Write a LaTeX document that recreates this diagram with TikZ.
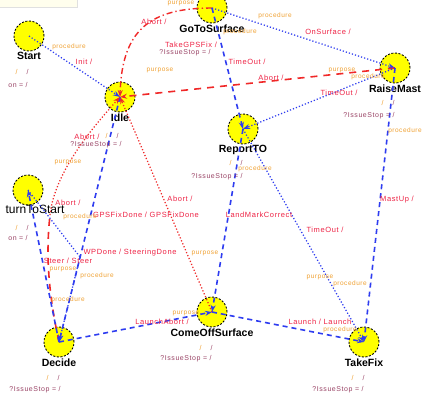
\documentclass[tikz,border=0pt]{standalone}
\usepackage{fontspec}
\setmainfont{Liberation Sans}
\newfontfamily\annfont[LetterSpace=8]{Liberation Sans}
\usetikzlibrary{arrows.meta}

\definecolor{lineblue}{HTML}{2E3CF0}
\definecolor{linered}{HTML}{F02828}
\definecolor{evred}{HTML}{EE2244}
\definecolor{annorange}{HTML}{F0A030}
\definecolor{annpurple}{HTML}{9A4466}
\definecolor{stateyellow}{HTML}{FFFF00}

\tikzset{
  state/.style={circle, fill=stateyellow, draw=black, line width=0.9pt,
    dash pattern=on 2pt off 1.6pt, minimum size=30pt, inner sep=0pt},
  statename/.style={font=\bfseries\fontsize{10.5}{12}\selectfont, inner sep=1pt,
    text=black, solid},
  ev/.style={text=evred, font=\annfont\fontsize{7.5}{9}\selectfont, inner sep=0pt},
  ann/.style={text=annorange, font=\annfont\fontsize{6.5}{8}\selectfont, inner sep=0pt},
  iss/.style={text=annpurple, font=\annfont\fontsize{7}{8}\selectfont, inner sep=0pt},
  tick/.style={font=\fontsize{7}{8}\selectfont, inner sep=0pt},
  tip/.style={-{Stealth[length=7pt,width=5pt]}},
  bdot/.style={draw=lineblue, line width=1.25pt, dash pattern=on 1.2pt off 2pt},
  bdash/.style={draw=lineblue, line width=1.6pt, dash pattern=on 5pt off 4pt},
  rdot/.style={draw=linered, line width=1.25pt, dash pattern=on 1.2pt off 2pt},
  rdash/.style={draw=linered, line width=1.6pt, dash pattern=on 7pt off 6pt},
  rdashdot/.style={draw=linered, line width=1.4pt, dash pattern=on 6pt off 3pt on 1.3pt off 3pt},
}
\newcommand{\ticks}{{\color{annorange}/}\hspace{9pt}{\color{annpurple}/}}

\begin{document}
\begin{tikzpicture}[x=1pt, y=-1pt]
\useasboundingbox (0,0) rectangle (425,402);
\fill[white] (0,0) rectangle (425,402);

% faint note strip in the corner
\filldraw[fill=yellow!7, draw=black!12] (-1,-1) rectangle (77,7);

% states
\node[state, label={[statename]below:Start}] (Start) at (29,36) {};
\node[state, label={[statename]below:GoToSurface}] (GoToSurface) at (212,8) {};
\node[state, label={[statename]below:Idle}] (Idle) at (120,97) {};
\node[state, label={[statename]below:RaiseMast}] (RaiseMast) at (395,68) {};
\node[state, label={[statename]below:ReportTO}] (ReportTO) at (243,129) {};
\node[state, label={[statename, font=\fontsize{12}{14}\selectfont, xshift=7pt, yshift=2pt]below:turnToStart}] (turnToStart) at (28,190) {};
\node[state, label={[statename]below:Decide}] (Decide) at (59,342) {};
\node[state, label={[statename]below:ComeOffSurface}] (ComeOffSurface) at (212,312) {};
\node[state, label={[statename]below:TakeFix}] (TakeFix) at (364,342) {};

\coordinate (wp) at (80,257);
\coordinate (rmid) at (50,215);

% transitions
\draw[bdot, tip] (Start.center) -- (Idle.center);
\draw[rdashdot, tip] (GoToSurface.center) .. controls (150,8) and (122,30) .. (Idle.center);
\draw[bdot, tip] (GoToSurface.center) -- (RaiseMast.center);
\draw[bdash, tip] (GoToSurface.center) -- (ReportTO.center);
\draw[rdash, tip] (RaiseMast.center) -- (Idle.center);
\draw[bdot, tip] (RaiseMast.center) -- (ReportTO.center);
\draw[bdash, tip] (RaiseMast.center) -- (TakeFix.center);
\draw[bdot, tip] (ReportTO.center) -- (TakeFix.center);
\draw[bdash, tip] (ReportTO.center) -- (ComeOffSurface.center);
\draw[rdot, tip] (ComeOffSurface.center) -- (Idle.center);
\draw[bdash, tip] (Idle.center) -- (Decide.center);
\draw[rdash] (Decide.center) .. controls (50,300) and (45,260) .. (rmid);
\draw[rdot, tip] (rmid) .. controls (55,170) and (95,125) .. (Idle.center);
\draw[bdot, tip] (turnToStart.center) -- (wp) -- (Decide.center);
\draw[bdash, tip] (Decide.center) -- (turnToStart.center);
\draw[bdash, tip] (Decide.center) -- (ComeOffSurface.center);
\draw[bdash, tip] (ComeOffSurface.center) -- (TakeFix.center);

% transition labels
\node[ev] (eInit) at (84,62) {Init /};
\node[ev] (eAbortGo) at (154,22) {Abort /};
\node[ev] (eTakeGPS) at (191,45) {TakeGPSFix /};
\node[ev] (eOnSurf) at (328,32) {OnSurface /};
\node[ev] (eTimeGo) at (247,62) {TimeOut /};
\node[ev] (eAbortRM) at (271,78) {Abort /};
\node[ev] (eTimeRM) at (339,93) {TimeOut /};
\node[ev] (eMastUp) at (397,200) {MastUp /};
\node[ev] (eLandmark) at (259,215) {LandMarkCorrect};
\node[ev] (eTimeRT) at (325,230) {TimeOut /};
\node[ev] (eAbortCO) at (180,199) {Abort /};
\node[ev] (eGPSDone) at (146,215) {GPSFixDone / GPSFixDone};
\node[ev] (eWPDone) at (130,253) {WPDone / SteeringDone};
\node[ev] (eAbortDe) at (68,203) {Abort /};
\node[ev] (eAbortId) at (87,137) {Abort /};
\node[ev] (eSteer) at (68,261) {Steer / Steer};
\node[ev] (eLaunchAb) at (162,322) {LaunchAbort /};
\node[ev] (eLaunch) at (320,322) {Launch / Launch};

% purpose / procedure notes
\node[ann] (pStart) at (69,47) {procedure};
\node[ann] (pGo1) at (181,3) {purpose};
\node[ann] (pId1) at (160,70) {purpose};
\node[ann] (pGo2) at (240,32) {procedure};
\node[ann] (pGo3) at (275,16) {procedure};
\node[ann] (pRM1) at (342,70) {purpose};
\node[ann] (pRM2) at (368,77) {procedure};
\node[ann] (pRM3) at (405,131) {procedure};
\node[ann] (pRT1) at (255,169) {procedure};
\node[ann] (pTF1) at (320,277) {purpose};
\node[ann] (pTF2) at (350,284) {procedure};
\node[ann] (pCO1) at (205,253) {purpose};
\node[ann] (pDe1) at (80,217) {procedure};
\node[ann] (pTS1) at (68,162) {purpose};
\node[ann] (pDe2) at (63,269) {purpose};
\node[ann] (pDe3) at (97,276) {procedure};
\node[ann] (pDe4) at (68,300) {procedure};
\node[ann] (pCO2) at (186,313) {purpose};
\node[ann] (pTF3) at (340,330) {procedure};

% state entry notes
\node[iss] (iGo) at (185,53) {?IssueStop = /};
\node[tick] (tId) at (112,136) {\ticks};
\node[iss] (iId) at (96,145) {?IssueStop = /};
\node[tick] (tRM) at (388,103) {\ticks};
\node[iss] (iRM) at (369,116) {?IssueStop = /};
\node[tick] (tRT) at (236,163) {\ticks};
\node[iss] (iRT) at (217,177) {?IssueStop = /};
\node[tick] (tSt) at (22,72) {\ticks};
\node[iss] (iSt) at (18,85) {on = /};
\node[tick] (tTS) at (22,228) {\ticks};
\node[iss] (iTS) at (18,238) {on = /};
\node[tick] (tDe) at (53,378) {\ticks};
\node[iss] (iDe) at (35,390) {?IssueStop = /};
\node[tick] (tCO) at (206,348) {\ticks};
\node[iss] (iCO) at (186,359) {?IssueStop = /};
\node[tick] (tTF) at (358,378) {\ticks};
\node[iss] (iTF) at (338,390) {?IssueStop = /};
\end{tikzpicture}
\end{document}
